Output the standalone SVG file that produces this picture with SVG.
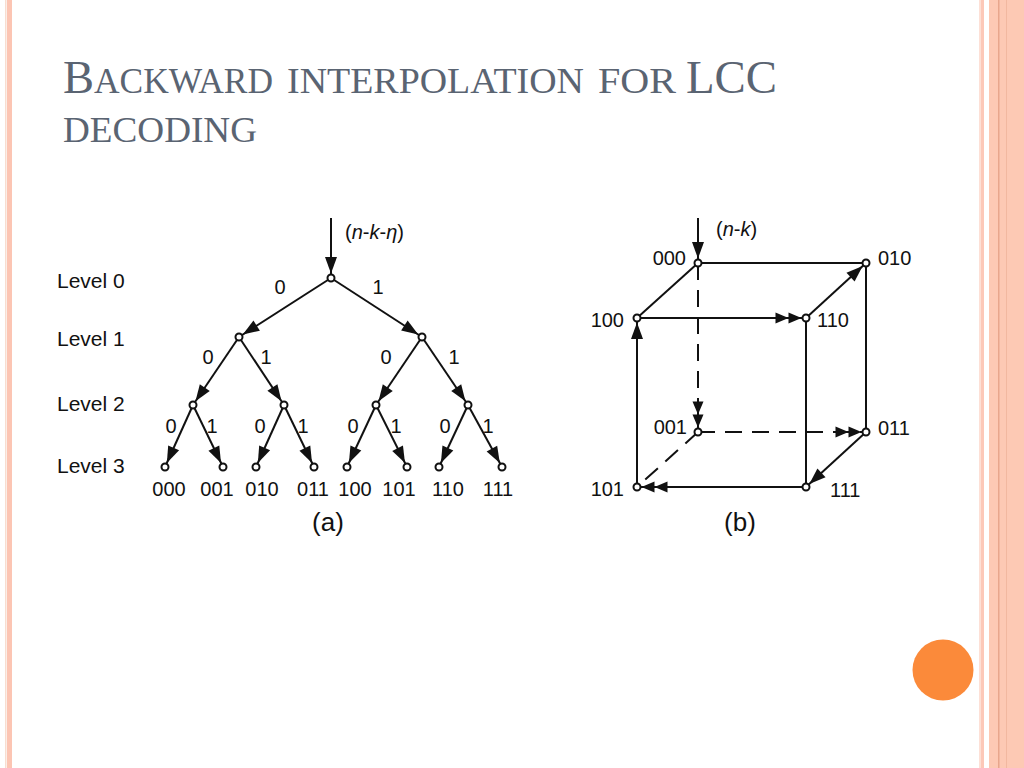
<svg xmlns="http://www.w3.org/2000/svg" width="1024" height="768" viewBox="0 0 1024 768">
<style>
.title{font-family:"Liberation Serif","Times New Roman",serif;fill:#5a6472}
.lbl{font-family:"Liberation Sans",Arial,sans-serif;font-size:20px;fill:#111}
.lvl{font-size:21px}
.cap{font-family:"Liberation Sans",Arial,sans-serif;font-size:26px;fill:#111}
.mid{text-anchor:middle}
.end{text-anchor:end}
.e{stroke:#111;stroke-width:2;fill:none}
.d{stroke-dasharray:17 10}
.a1{marker-end:url(#arr)}
.a2{marker-end:url(#arr2)}
.n{fill:#fff;stroke:#111;stroke-width:2}
</style>
<defs>
<marker id="arr" markerUnits="userSpaceOnUse" markerWidth="40" markerHeight="20" viewBox="0 0 40 20" refX="21" refY="6" orient="auto" overflow="visible">
<path d="M0,0 L16.5,6 L0,12 Z" fill="#111"/>
</marker>
<marker id="arr2" markerUnits="userSpaceOnUse" markerWidth="40" markerHeight="20" viewBox="0 0 40 20" refX="30.5" refY="5.5" orient="auto" overflow="visible">
<path d="M0,0 L13,5.5 L0,11 Z M13,0 L26,5.5 L13,11 Z" fill="#111"/>
</marker>
</defs>
<rect width="1024" height="768" fill="#fff"/>
<g id="frame">
<rect x="5" y="0" width="1.5" height="768" fill="#f8ddd0"/>
<rect x="7" y="0" width="5" height="768" fill="#fcc5b3"/>
<rect x="979" y="0" width="2" height="768" fill="#fde0d6"/>
<rect x="981" y="0" width="3" height="768" fill="#fcc8b8"/>
<rect x="989" y="0" width="35" height="768" fill="#fdc9b4"/>
<rect x="998" y="0" width="1.5" height="768" fill="#e8a68c"/>
<rect x="1006" y="0" width="1" height="768" fill="#f2b8a0"/>
<circle cx="943" cy="670" r="30.5" fill="#fb8a3a"/>
</g>
<g id="title">
<text class="title" x="63" y="93" textLength="210" lengthAdjust="spacingAndGlyphs"><tspan font-size="46">B</tspan><tspan font-size="35">ACKWARD</tspan></text>
<text class="title" x="287" y="93" font-size="35" textLength="297" lengthAdjust="spacingAndGlyphs">INTERPOLATION</text>
<text class="title" x="598" y="93" font-size="35" textLength="78" lengthAdjust="spacingAndGlyphs">FOR</text>
<text class="title" x="686" y="93" font-size="46" textLength="91" lengthAdjust="spacingAndGlyphs">LCC</text>
<text class="title" x="63" y="142" font-size="35" textLength="194" lengthAdjust="spacingAndGlyphs">DECODING</text>
</g>
<g id="connectors">
<line class="e a1" x1="331" y1="218" x2="331" y2="278"/>
<line class="e a1" x1="331" y1="278" x2="239" y2="337"/>
<line class="e a1" x1="331" y1="278" x2="422" y2="337"/>
<line class="e a1" x1="239" y1="337" x2="193" y2="405"/>
<line class="e a1" x1="239" y1="337" x2="284" y2="405"/>
<line class="e a1" x1="422" y1="337" x2="376" y2="405"/>
<line class="e a1" x1="422" y1="337" x2="468" y2="405"/>
<line class="e a1" x1="193" y1="405" x2="165" y2="467"/>
<line class="e a1" x1="193" y1="405" x2="223" y2="467"/>
<line class="e a1" x1="284" y1="405" x2="256" y2="467"/>
<line class="e a1" x1="284" y1="405" x2="314" y2="467"/>
<line class="e a1" x1="376" y1="405" x2="347" y2="467"/>
<line class="e a1" x1="376" y1="405" x2="407" y2="467"/>
<line class="e a1" x1="468" y1="405" x2="439" y2="467"/>
<line class="e a1" x1="468" y1="405" x2="502" y2="467"/>

<line class="e a1" x1="698" y1="218" x2="698" y2="263"/>
<line class="e" x1="698" y1="263" x2="866" y2="263"/>
<line class="e" x1="698" y1="263" x2="637" y2="318"/>
<line class="e a2" x1="637" y1="318" x2="806" y2="318"/>
<line class="e a1" x1="806" y1="318" x2="866" y2="263"/>
<line class="e" x1="866" y1="263" x2="866" y2="432"/>
<line class="e" x1="806" y1="318" x2="806" y2="487"/>
<line class="e d a2" x1="698" y1="263" x2="698" y2="432"/>
<line class="e d a2" x1="698" y1="432" x2="866" y2="432"/>
<line class="e d" x1="698" y1="432" x2="637" y2="487"/>
<line class="e a1" x1="866" y1="432" x2="806" y2="487"/>
<line class="e a2" x1="806" y1="487" x2="637" y2="487"/>
<line class="e a1" x1="637" y1="487" x2="637" y2="318"/>
</g>
<g id="tree-root"><circle class="n" cx="331" cy="278" r="3.5"/></g>
<g id="tree-0"><circle class="n" cx="239" cy="337" r="3.5"/></g>
<g id="tree-1"><circle class="n" cx="422" cy="337" r="3.5"/></g>
<g id="tree-00"><circle class="n" cx="193" cy="405" r="3.5"/></g>
<g id="tree-01"><circle class="n" cx="284" cy="405" r="3.5"/></g>
<g id="tree-10"><circle class="n" cx="376" cy="405" r="3.5"/></g>
<g id="tree-11"><circle class="n" cx="468" cy="405" r="3.5"/></g>
<g id="tree-000"><circle class="n" cx="165" cy="467" r="3.5"/><text class="lbl mid" x="169" y="496">000</text></g>
<g id="tree-001"><circle class="n" cx="223" cy="467" r="3.5"/><text class="lbl mid" x="217" y="496">001</text></g>
<g id="tree-010"><circle class="n" cx="256" cy="467" r="3.5"/><text class="lbl mid" x="262" y="496">010</text></g>
<g id="tree-011"><circle class="n" cx="314" cy="467" r="3.5"/><text class="lbl mid" x="313" y="496">011</text></g>
<g id="tree-100"><circle class="n" cx="347" cy="467" r="3.5"/><text class="lbl mid" x="355" y="496">100</text></g>
<g id="tree-101"><circle class="n" cx="407" cy="467" r="3.5"/><text class="lbl mid" x="399" y="496">101</text></g>
<g id="tree-110"><circle class="n" cx="439" cy="467" r="3.5"/><text class="lbl mid" x="448" y="496">110</text></g>
<g id="tree-111"><circle class="n" cx="502" cy="467" r="3.5"/><text class="lbl mid" x="498" y="496">111</text></g>
<g id="tree-labels">
<text class="lbl" x="345" y="239">(<tspan font-style="italic">n</tspan>-<tspan font-style="italic">k</tspan>-<tspan font-style="italic">η</tspan>)</text>
<text class="lbl lvl" x="57" y="288">Level 0</text>
<text class="lbl lvl" x="57" y="346">Level 1</text>
<text class="lbl lvl" x="57" y="411">Level 2</text>
<text class="lbl lvl" x="57" y="473">Level 3</text>
<text class="lbl mid" x="280" y="294">0</text>
<text class="lbl mid" x="378" y="294">1</text>
<text class="lbl mid" x="208" y="364">0</text>
<text class="lbl mid" x="266" y="364">1</text>
<text class="lbl mid" x="386" y="364">0</text>
<text class="lbl mid" x="454" y="364">1</text>
<text class="lbl mid" x="171" y="433">0</text>
<text class="lbl mid" x="212" y="433">1</text>
<text class="lbl mid" x="260" y="433">0</text>
<text class="lbl mid" x="303" y="433">1</text>
<text class="lbl mid" x="353" y="433">0</text>
<text class="lbl mid" x="396" y="433">1</text>
<text class="lbl mid" x="445" y="433">0</text>
<text class="lbl mid" x="488" y="433">1</text>
<text class="cap mid" x="328" y="531">(a)</text>
</g>
<g id="cube-000"><circle class="n" cx="698" cy="263" r="3.5"/><text class="lbl end" x="686" y="265">000</text></g>
<g id="cube-010"><circle class="n" cx="866" cy="263" r="3.5"/><text class="lbl" x="878" y="265">010</text></g>
<g id="cube-100"><circle class="n" cx="637" cy="318" r="3.5"/><text class="lbl end" x="624" y="327">100</text></g>
<g id="cube-110"><circle class="n" cx="806" cy="318" r="3.5"/><text class="lbl" x="817" y="327">110</text></g>
<g id="cube-001"><circle class="n" cx="698" cy="432" r="3.5"/><text class="lbl end" x="687" y="434">001</text></g>
<g id="cube-011"><circle class="n" cx="866" cy="432" r="3.5"/><text class="lbl" x="878" y="435">011</text></g>
<g id="cube-101"><circle class="n" cx="637" cy="487" r="3.5"/><text class="lbl end" x="624" y="496">101</text></g>
<g id="cube-111"><circle class="n" cx="806" cy="487" r="3.5"/><text class="lbl" x="830" y="497">111</text></g>
<g id="cube-labels">
<text class="lbl" x="716" y="236">(<tspan font-style="italic">n</tspan>-<tspan font-style="italic">k</tspan>)</text>
<text class="cap mid" x="740" y="531">(b)</text>
</g>
</svg>
